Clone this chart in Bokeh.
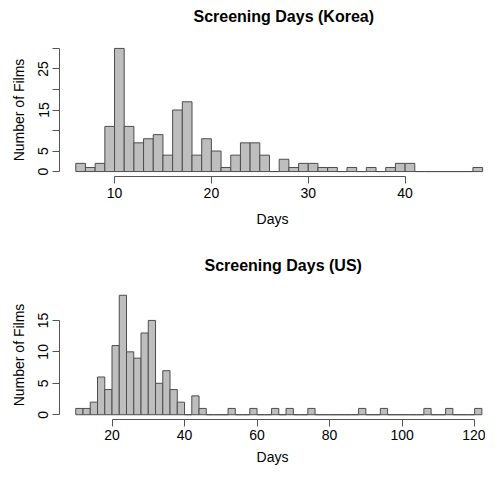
from bokeh.plotting import figure
from bokeh.layouts import column
from bokeh.models import FixedTicker, Range1d
from bokeh.embed import file_html
from bokeh.resources import INLINE

# Korea: histogram breaks (1-day bins) and counts
kr_breaks = list(range(6, 49))
kr_counts = [2, 1, 2, 11, 30, 11, 7, 8, 9, 4, 15, 17, 4, 8, 5, 1, 4, 7, 7, 4,
             0, 3, 1, 2, 2, 1, 1, 0, 1, 0, 1, 0, 1, 2, 2, 0, 0, 0, 0, 0, 0, 1]
kr_yticks = [0, 5, 10, 15, 20, 25, 30]
kr_ylabels_hidden = [10, 20, 30]
kr_xticks = [10, 20, 30, 40]

# US: histogram breaks (2-day bins) and counts
us_breaks = list(range(10, 124, 2))
us_counts = [1, 1, 2, 6, 4, 11, 19, 10, 9, 13, 15, 5, 7, 4, 2, 0, 3, 1, 0, 0,
             0, 1, 0, 0, 1, 0, 0, 1, 0, 1, 0, 0, 1, 0, 0, 0, 0, 0, 0, 1, 0, 0,
             1, 0, 0, 0, 0, 0, 1, 0, 0, 1, 0, 0, 0, 1]
us_yticks = [0, 5, 10, 15]
us_xticks = [20, 40, 60, 80, 100, 120]

FONT = "Liberation Sans"
FILL = "#BEBEBE"
EDGE = "#4D4D4D"
AXC = "#555555"


def make_title(text, height, b_top, offset):
    t = figure(width=485, height=height, output_backend="svg",
               toolbar_location=None, x_axis_type=None, y_axis_type=None,
               min_border_left=59, min_border_right=0,
               min_border_top=b_top, min_border_bottom=0)
    t.title.text = text
    t.title.text_font = FONT
    t.title.text_font_size = "16px"
    t.title.text_font_style = "bold"
    t.title.text_color = "#000000"
    t.title.align = "left"
    t.title.offset = offset
    t.title.standoff = 11
    t.outline_line_color = None
    t.background_fill_color = "white"
    t.border_fill_color = "white"
    return t


def make_hist(breaks, counts, xr, yr, xticks, yticks, hidden,
              height, b_bottom, lab_so, axl_so):
    p = figure(width=485, height=height, output_backend="svg",
               toolbar_location=None, x_range=Range1d(*xr), y_range=Range1d(*yr),
               min_border_left=59, min_border_right=0,
               min_border_top=0, min_border_bottom=b_bottom)
    p.title = None
    p.quad(left=breaks[:-1], right=breaks[1:], top=counts, bottom=0,
           fill_color=FILL, line_color=EDGE, line_width=1)
    p.xgrid.visible = False
    p.ygrid.visible = False
    p.outline_line_color = None
    p.background_fill_color = "white"
    p.border_fill_color = "white"

    xa = p.below[0]
    xa.ticker = FixedTicker(ticks=xticks)
    xa.bounds = (xticks[0], xticks[-1])
    xa.axis_label = "Days"
    ya = p.left[0]
    ya.ticker = FixedTicker(ticks=yticks)
    ya.bounds = (yticks[0], yticks[-1])
    ya.axis_label = "Number of Films"
    ya.major_label_orientation = "vertical"
    if hidden:
        ya.major_label_overrides = {h: "" for h in hidden}
    for ax in (xa, ya):
        ax.axis_line_color = AXC
        ax.major_tick_line_color = AXC
        ax.minor_tick_line_color = None
        ax.major_tick_out = 7
        ax.major_tick_in = 0
        ax.major_label_text_font = FONT
        ax.major_label_text_font_size = "14px"
        ax.major_label_text_color = "#000000"
        ax.axis_label_text_font = FONT
        ax.axis_label_text_font_size = "14px"
        ax.axis_label_text_font_style = "normal"
        ax.axis_label_text_color = "#000000"
    xa.major_label_standoff = lab_so
    xa.axis_label_standoff = axl_so
    ya.major_label_standoff = 4
    ya.axis_label_standoff = 9
    return p


t1 = make_title("Screening Days (Korea)", 43, 29, 134)
p1 = make_hist(kr_breaks, kr_counts, (4.32, 48.3), (-1.2, 31.2),
               kr_xticks, kr_yticks, kr_ylabels_hidden, 197, 64, 4, 10)
t2 = make_title("Screening Days (US)", 50, 39, 145)
p2 = make_hist(us_breaks, us_counts, (5.52, 123.0), (-0.76, 19.76),
               us_xticks, us_yticks, None, 177, 48, 3, 6)

layout = column(t1, p1, t2, p2)
open("out.html", "w").write(file_html(layout, INLINE))
